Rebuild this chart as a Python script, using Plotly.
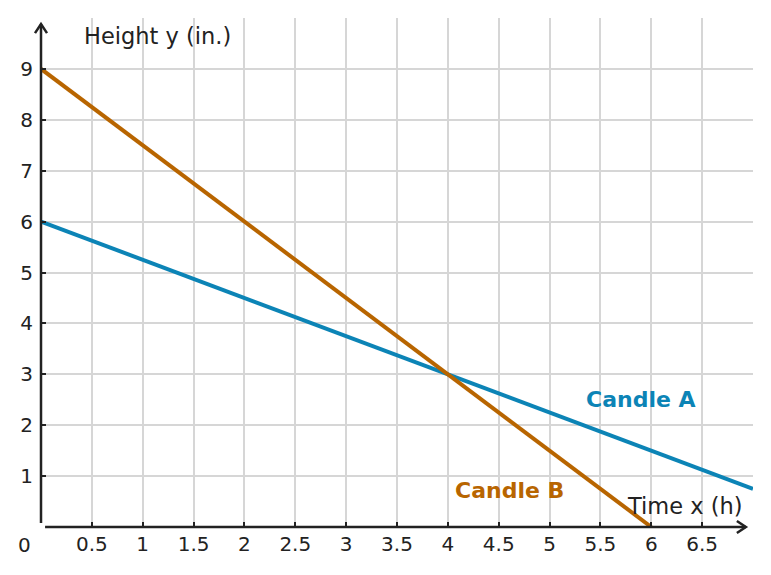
import plotly.graph_objects as go

# Data
hours_a = [0, 4, 7]
height_a = [6, 3, 0.75]
hours_b = [0, 4, 6]
height_b = [9, 3, 0]

x_ticks = [0.5, 1, 1.5, 2, 2.5, 3, 3.5, 4, 4.5, 5, 5.5, 6, 6.5]
x_labels = ["0.5", "1", "1.5", "2", "2.5", "3", "3.5", "4", "4.5", "5", "5.5", "6", "6.5"]
y_ticks = [1, 2, 3, 4, 5, 6, 7, 8, 9]
y_labels = [str(v) for v in y_ticks]

COL_A = "#0c84b6"
COL_B = "#b86500"
AX = "#222222"
FONT = "DejaVu Sans"

X_MAX, Y_MAX = 7, 10
W, H = 771, 575
ML, MR, MT, MB = 41, 18, 18, 48
PW, PH = W - ML - MR, H - MT - MB

fig = go.Figure()
fig.add_trace(go.Scatter(x=hours_a, y=height_a, mode="lines",
                         line=dict(color=COL_A, width=4), hoverinfo="skip"))
fig.add_trace(go.Scatter(x=hours_b, y=height_b, mode="lines",
                         line=dict(color=COL_B, width=4), hoverinfo="skip"))

# axis lines with chevron arrows (paper coordinates so they are not clipped)
def px(xd):
    return xd / X_MAX
def py(yd):
    return yd / Y_MAX

x_tip = 6.93
y_tip = 9.88
ah_len, ah_w = 9, 6
dx_l, dy_l = ah_len / PW, ah_len / PH
dx_w, dy_w = ah_w / PW, ah_w / PH
shapes = [
    dict(type="line", x0=0, y0=py(0.08), x1=0, y1=py(y_tip), xref="paper", yref="paper",
         line=dict(color=AX, width=2.5)),
    dict(type="line", x0=px(0.04), y0=0, x1=px(x_tip), y1=0, xref="paper", yref="paper",
         line=dict(color=AX, width=2.5)),
    dict(type="path",
         path=f"M {-dx_w},{py(y_tip) - dy_l} L 0,{py(y_tip)} L {dx_w},{py(y_tip) - dy_l}",
         xref="paper", yref="paper", line=dict(color=AX, width=2.5)),
    dict(type="path",
         path=f"M {px(x_tip) - dx_l},{dy_w} L {px(x_tip)},0 L {px(x_tip) - dx_l},{-dy_w}",
         xref="paper", yref="paper", line=dict(color=AX, width=2.5)),
]

fig.update_layout(
    width=W, height=H,
    margin=dict(l=ML, r=MR, t=MT, b=MB, pad=0),
    paper_bgcolor="white", plot_bgcolor="white",
    showlegend=False,
    font=dict(family=FONT, color=AX, size=20),
    shapes=shapes,
    xaxis=dict(range=[0, X_MAX], tickvals=x_ticks, ticktext=x_labels,
               showgrid=True, gridcolor="#d6d6d6", gridwidth=1.5,
               zeroline=False, showline=False,
               ticks="inside", ticklen=5, tickwidth=2, tickcolor=AX,
               ticklabelstandoff=3,
               tickfont=dict(size=20, color=AX, family=FONT), fixedrange=True),
    yaxis=dict(range=[0, Y_MAX], tickvals=y_ticks, ticktext=y_labels,
               showgrid=True, gridcolor="#d6d6d6", gridwidth=1.5,
               zeroline=False, showline=False,
               ticks="inside", ticklen=5, tickwidth=2, tickcolor=AX,
               ticklabelstandoff=7,
               tickfont=dict(size=20, color=AX, family=FONT), fixedrange=True),
    annotations=[
        dict(x=0, y=0, xref="x", yref="y", text="0", showarrow=False,
             xshift=-17, yshift=-18, font=dict(size=20, color=AX)),
        dict(x=0.40, y=9.65, xref="x", yref="y", text="Height y (in.)", showarrow=False,
             xanchor="left", yanchor="middle", font=dict(size=22.5, color=AX)),
        dict(x=6.92, y=0.41, xref="x", yref="y", text="Time x (h)", showarrow=False,
             xanchor="right", yanchor="middle", font=dict(size=22.5, color=AX)),
        dict(x=5.90, y=2.50, xref="x", yref="y", text="<b>Candle A</b>", showarrow=False,
             font=dict(size=22, color=COL_A)),
        dict(x=4.61, y=0.71, xref="x", yref="y", text="<b>Candle B</b>", showarrow=False,
             font=dict(size=22, color=COL_B)),
    ],
)

fig.write_html("out.html")
